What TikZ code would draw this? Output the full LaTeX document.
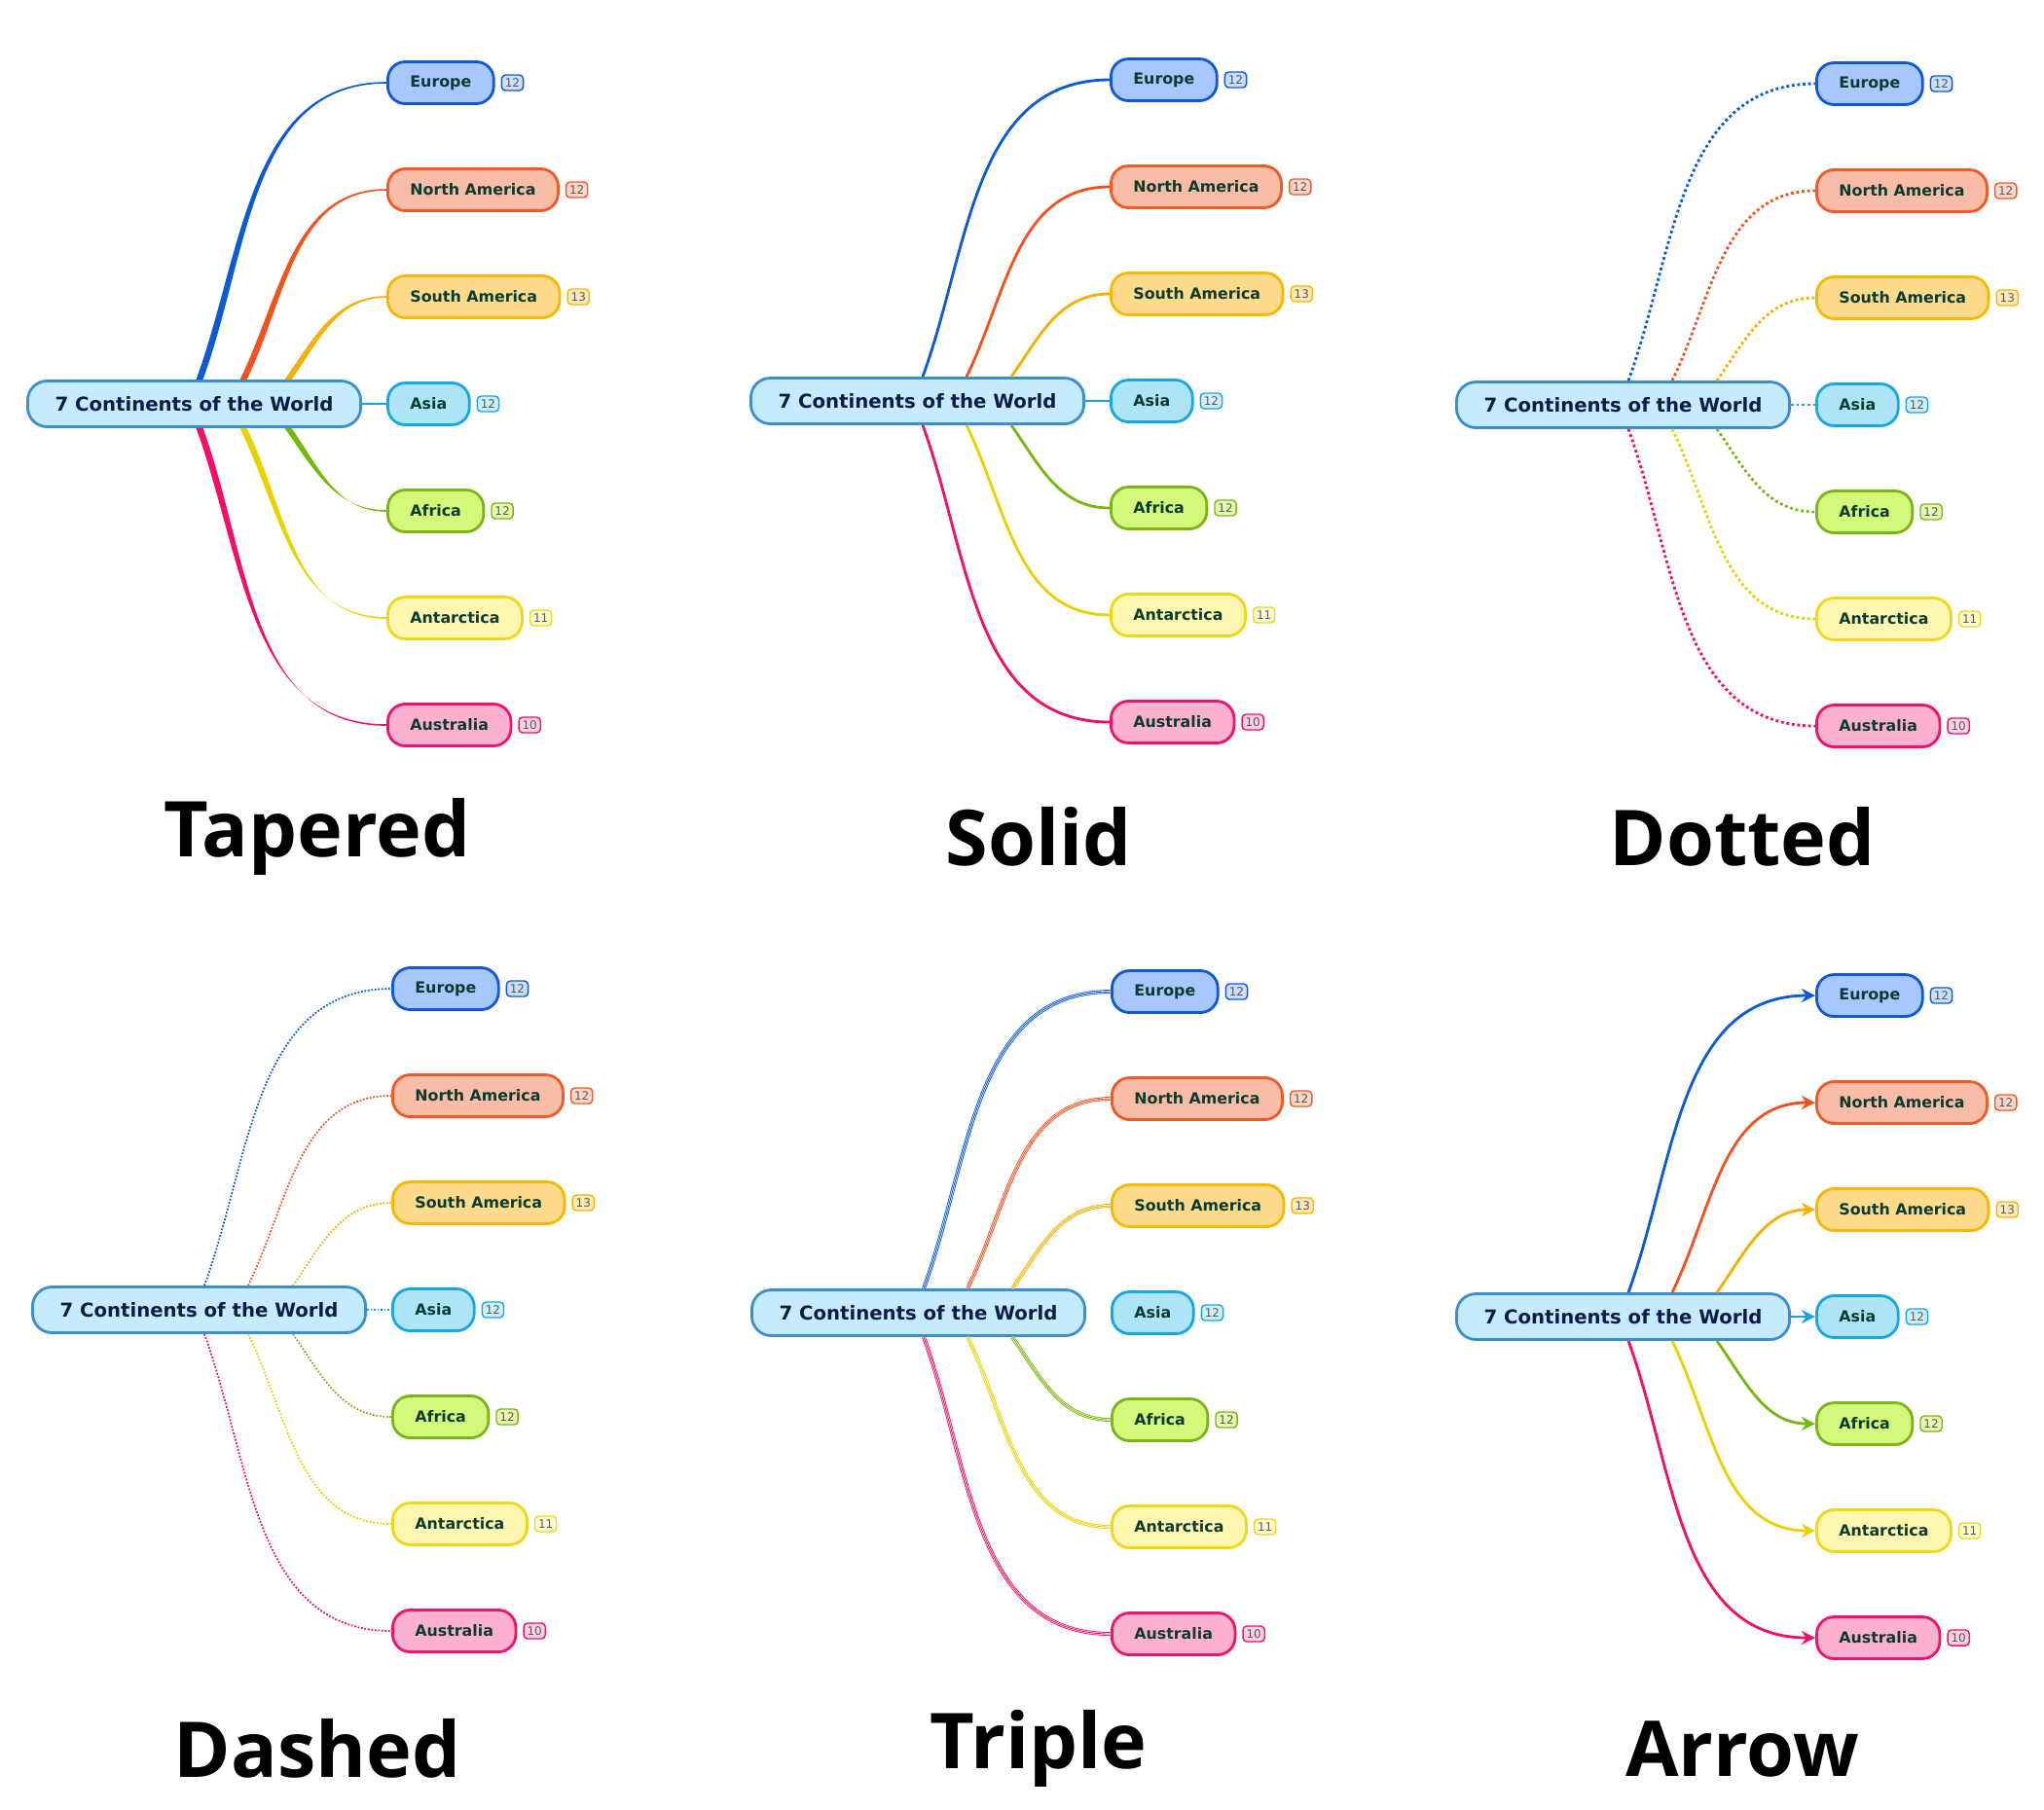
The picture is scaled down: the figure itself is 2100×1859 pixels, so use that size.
\documentclass[tikz,border=0pt]{standalone}
\usepackage{fontspec}
\usetikzlibrary{arrows.meta,positioning,calc}
\newfontfamily\mapfont{DejaVu Sans}
\newfontfamily\headfont{Open Sans}

% node colours
\definecolor{root-fl}{HTML}{C5EBFD}\definecolor{root-ln}{HTML}{3A8FD0}
\definecolor{eu-fl}{HTML}{A6C8FF}\definecolor{eu-ln}{HTML}{1158D6}\definecolor{eu-br}{HTML}{0B5BD3}
\definecolor{na-fl}{HTML}{F9BCA6}\definecolor{na-ln}{HTML}{F05A28}\definecolor{na-br}{HTML}{F4511E}
\definecolor{sa-fl}{HTML}{FDDB8B}\definecolor{sa-ln}{HTML}{F9B800}\definecolor{sa-br}{HTML}{F5B000}
\definecolor{as-fl}{HTML}{AEE4F7}\definecolor{as-ln}{HTML}{17A8E3}\definecolor{as-br}{HTML}{19A6E0}
\definecolor{af-fl}{HTML}{D4F97A}\definecolor{af-ln}{HTML}{7CB518}\definecolor{af-br}{HTML}{76B80D}
\definecolor{an-fl}{HTML}{FFF7B0}\definecolor{an-ln}{HTML}{EED818}\definecolor{an-br}{HTML}{E8D300}
\definecolor{au-fl}{HTML}{FCB1D0}\definecolor{au-ln}{HTML}{F0126D}\definecolor{au-br}{HTML}{F50D68}
\definecolor{roottext}{HTML}{0D1B4A}\definecolor{leaftext}{HTML}{0B3B2E}

\tikzset{
  root/.style={draw=root-ln, fill=root-fl, line width=0.8pt, rounded corners=0.2cm,
    minimum width=3.42cm, minimum height=0.47cm, text=roottext,
    font=\mapfont\bfseries\fontsize{5.6}{7}\selectfont},
  leaf/.style={draw=#1-ln, fill=#1-fl, line width=0.8pt, rounded corners=0.18cm,
    minimum height=0.43cm, inner xsep=0.23cm, text=leaftext,
    font=\mapfont\bfseries\fontsize{4.5}{6}\selectfont},
  badge/.style={draw=#1-ln, fill=#1-fl!60, line width=0.4pt, rounded corners=0.04cm,
    minimum height=0.16cm, inner xsep=0.035cm, inner ysep=0.01cm, text=black!65,
    font=\mapfont\fontsize{3.4}{4}\selectfont},
  title/.style={font=\headfont\bfseries\fontsize{22.5}{26}\selectfont},
  solid link/.style={line width=0.8pt},
  dotted link/.style={line width=0.8pt, dash pattern=on 0.8pt off 0.8pt},
  dashed link/.style={line width=0.5pt, dash pattern=on 0.5pt off 0.5pt},
  arrow link/.style={line width=0.8pt, -{Stealth[length=4pt,width=4pt]}},
}

% one mind map: #1 x, #2 y of the root's left end, #3 prefix
\newcommand\continents[3]{%
  \node[root, anchor=west] (#3root) at (#1,#2) {7 Continents of the World};
  \foreach \name/\lab/\cnt/\k in {eu/Europe/12/-3, na/North America/12/-2,
      sa/South America/13/-1, as/Asia/12/0, af/Africa/12/1,
      an/Antarctica/11/2, au/Australia/10/3} {
    \node[leaf=\name, anchor=west] (#3\name) at (#1+370,#2-\k*110) {\lab};
    \node[badge=\name, right=0.06cm of #3\name] (#3\name n) {\cnt};
  }
}
% curved links: #1 prefix, #2 style
\newcommand\links[2]{%
  \foreach \name/\side/\off/\ang in {eu/north/178/70, na/north/223/64, sa/north/269/55,
      af/south/269/-55, an/south/223/-64, au/south/178/-70}
    \draw[draw=\name-br, #2] ($(#1root.\side\space west)+(\off,0)$) to[out=\ang,in=180] (#1\name.west);
}

\begin{document}
\begin{tikzpicture}[x=0.01cm, y=0.01cm]
\useasboundingbox[fill=white] (0,0) rectangle (2100,-1859);

% Tapered
\continents{27}{-415}{tp}
\foreach \name/\side/\off/\ang in {eu/north/178/70, na/north/223/64, sa/north/269/55,
    af/south/269/-55, an/south/223/-64, au/south/178/-70}
  \fill[\name-br] ($(tproot.\side\space west)+(\off-3.5,0)$) to[out=\ang,in=180] ($(tp\name.west)+(0,0.8)$)
    -- ($(tp\name.west)+(0,-0.8)$) to[out=180,in=\ang] ($(tproot.\side\space west)+(\off+3.5,0)$) -- cycle;
\draw[as-br, line width=0.6pt] (tproot.east) -- (tpas.west);
\node[title] (ttap) at (326,-860) {Tapered};

% Solid
\continents{770}{-412}{sl}
\links{sl}{solid link}
\draw[as-br, solid link] (slroot.east) -- (slas.west);
\node[title] (tsol) at (1067,-860) {Solid};

% Dotted
\continents{1495}{-416}{dt}
\links{dt}{dotted link}
\draw[as-br, dotted link] (dtroot.east) -- (dtas.west);
\node[title] (tdot) at (1790,-860) {Dotted};

% Dashed
\continents{32}{-1346}{ds}
\links{ds}{dashed link}
\draw[as-br, dashed link] (dsroot.east) -- (dsas.west);
\node[title] (tdsh) at (326,-1797) {Dashed};

% Triple (no link to Asia)
\continents{771}{-1349}{tr}
\links{tr}{line width=1.1pt}
\links{tr}{line width=0.6pt, draw=white}
\links{tr}{line width=0.25pt}
\node[title] (ttri) at (1067,-1797) {Triple};

% Arrow
\continents{1495}{-1353}{ar}
\links{ar}{arrow link}
\draw[as-br, arrow link] (arroot.east) -- (aras.west);
\node[title] (tarr) at (1790,-1797) {Arrow};

\end{tikzpicture}
\end{document}
